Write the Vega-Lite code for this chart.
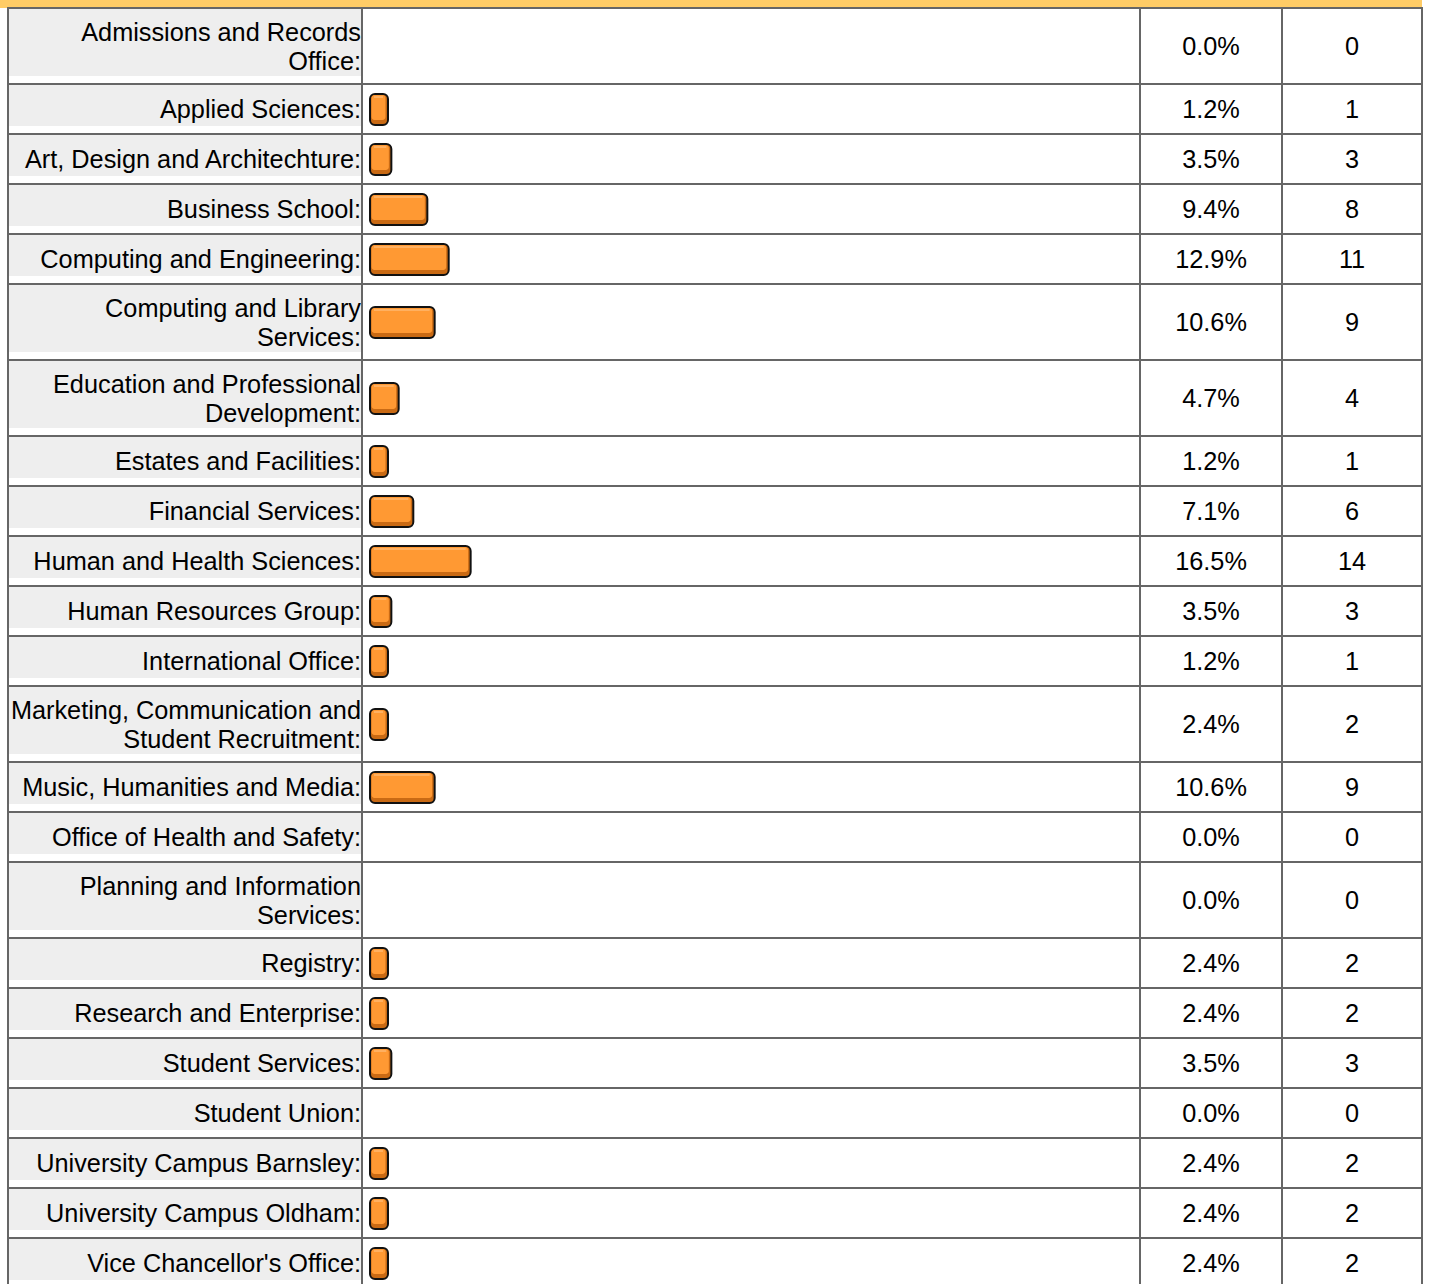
{
  "$schema": "https://vega.github.io/schema/vega-lite/v6.json",
  "background": "white",
  "padding": {"left": 0, "top": 0, "right": 0, "bottom": 0},
  "spacing": 0,
  "bounds": "flush",
  "config": {"view": {"stroke": null}},
  "data": {"values": [
    {"i": 1, "dept": "Admissions and Records\nOffice:", "pct": 0.0, "count": 0, "lines": 2},
    {"i": 2, "dept": "Applied Sciences:", "pct": 0.012, "count": 1, "lines": 1},
    {"i": 3, "dept": "Art, Design and Architechture:", "pct": 0.035, "count": 3, "lines": 1},
    {"i": 4, "dept": "Business School:", "pct": 0.094, "count": 8, "lines": 1},
    {"i": 5, "dept": "Computing and Engineering:", "pct": 0.129, "count": 11, "lines": 1},
    {"i": 6, "dept": "Computing and Library\nServices:", "pct": 0.106, "count": 9, "lines": 2},
    {"i": 7, "dept": "Education and Professional\nDevelopment:", "pct": 0.047, "count": 4, "lines": 2},
    {"i": 8, "dept": "Estates and Facilities:", "pct": 0.012, "count": 1, "lines": 1},
    {"i": 9, "dept": "Financial Services:", "pct": 0.071, "count": 6, "lines": 1},
    {"i": 10, "dept": "Human and Health Sciences:", "pct": 0.165, "count": 14, "lines": 1},
    {"i": 11, "dept": "Human Resources Group:", "pct": 0.035, "count": 3, "lines": 1},
    {"i": 12, "dept": "International Office:", "pct": 0.012, "count": 1, "lines": 1},
    {"i": 13, "dept": "Marketing, Communication and\nStudent Recruitment:", "pct": 0.024, "count": 2, "lines": 2},
    {"i": 14, "dept": "Music, Humanities and Media:", "pct": 0.106, "count": 9, "lines": 1},
    {"i": 15, "dept": "Office of Health and Safety:", "pct": 0.0, "count": 0, "lines": 1},
    {"i": 16, "dept": "Planning and Information\nServices:", "pct": 0.0, "count": 0, "lines": 2},
    {"i": 17, "dept": "Registry:", "pct": 0.024, "count": 2, "lines": 1},
    {"i": 18, "dept": "Research and Enterprise:", "pct": 0.024, "count": 2, "lines": 1},
    {"i": 19, "dept": "Student Services:", "pct": 0.035, "count": 3, "lines": 1},
    {"i": 20, "dept": "Student Union:", "pct": 0.0, "count": 0, "lines": 1},
    {"i": 21, "dept": "University Campus Barnsley:", "pct": 0.024, "count": 2, "lines": 1},
    {"i": 22, "dept": "University Campus Oldham:", "pct": 0.024, "count": 2, "lines": 1},
    {"i": 23, "dept": "Vice Chancellor's Office:", "pct": 0.024, "count": 2, "lines": 1}
  ]},
  "transform": [
    {"calculate": "datum.lines == 2 ? 1.52 : 1", "as": "h"},
    {"window": [{"op": "sum", "field": "h", "as": "bottom"}], "sort": [{"field": "i"}], "frame": [null, 0]},
    {"calculate": "datum.bottom - datum.h", "as": "top"},
    {"calculate": "datum.bottom - datum.h / 2", "as": "mid"},
    {"calculate": "-0.16", "as": "bandTop"},
    {"calculate": "0", "as": "bandBot"},
    {"calculate": "0", "as": "c0"},
    {"calculate": "1", "as": "c1"},
    {"calculate": "0.5", "as": "chalf"},
    {"calculate": "-0.01311", "as": "barL"},
    {"calculate": "1.2623", "as": "barR"},
    {"calculate": "max(datum.pct, 0.0295)", "as": "barEnd"}
  ],
  "hconcat": [
    {
      "width": 354,
      "height": 1284,
      "encoding": {
        "y": {"field": "top", "type": "quantitative", "scale": {"domain": [-0.16, 25.52], "reverse": true, "nice": false, "zero": false}, "axis": null}
      },
      "layer": [
        {
          "transform": [{"filter": "datum.i == 1"}],
          "mark": {"type": "rect", "fill": "#FFCC66", "xOffset": -8},
          "encoding": {
            "x": {"field": "c0", "type": "quantitative", "scale": {"domain": [0, 1], "nice": false, "zero": false}, "axis": null},
            "x2": {"field": "c1"},
            "y": {"field": "bandTop", "type": "quantitative"},
            "y2": {"field": "bandBot"}
          }
        },
        {
          "mark": {"type": "rect", "fill": "white", "stroke": "#666666", "strokeWidth": 2},
          "encoding": {
            "x": {"field": "c0", "type": "quantitative"},
            "x2": {"field": "c1"},
            "y2": {"field": "bottom"}
          }
        },
        {
          "mark": {"type": "rect", "fill": "#EEEEEE", "yOffset": 1, "y2Offset": -8, "xOffset": 1, "x2Offset": -1},
          "encoding": {
            "x": {"field": "c0", "type": "quantitative"},
            "x2": {"field": "c1"},
            "y2": {"field": "bottom"}
          }
        },
        {
          "transform": [{"filter": "datum.lines == 1"}],
          "mark": {"type": "text", "align": "right", "baseline": "middle", "font": "Liberation Sans", "fontSize": 25.3, "fill": "black", "dx": -1, "dy": 1},
          "encoding": {
            "x": {"field": "c1", "type": "quantitative"},
            "y": {"field": "mid", "type": "quantitative"},
            "text": {"field": "dept", "type": "nominal"}
          }
        },
        {
          "transform": [{"filter": "datum.lines == 2"}],
          "mark": {"type": "text", "align": "right", "baseline": "middle", "font": "Liberation Sans", "fontSize": 25.3, "lineHeight": 29, "lineBreak": "\n", "fill": "black", "dx": -1, "dy": -13},
          "encoding": {
            "x": {"field": "c1", "type": "quantitative"},
            "y": {"field": "mid", "type": "quantitative"},
            "text": {"field": "dept", "type": "nominal"}
          }
        }
      ]
    },
    {
      "width": 778,
      "height": 1284,
      "encoding": {
        "y": {"field": "top", "type": "quantitative", "scale": {"domain": [-0.16, 25.52], "reverse": true, "nice": false, "zero": false}, "axis": null}
      },
      "layer": [
        {
          "transform": [{"filter": "datum.i == 1"}],
          "mark": {"type": "rect", "fill": "#FFCC66"},
          "encoding": {
            "x": {"field": "barL", "type": "quantitative", "scale": {"domain": [-0.01311, 1.2623], "nice": false, "zero": false}, "axis": null},
            "x2": {"field": "barR"},
            "y": {"field": "bandTop", "type": "quantitative"},
            "y2": {"field": "bandBot"}
          }
        },
        {
          "mark": {"type": "rect", "fill": "white", "stroke": "#666666", "strokeWidth": 2},
          "encoding": {
            "x": {"field": "barL", "type": "quantitative"},
            "x2": {"field": "barR"},
            "y2": {"field": "bottom"}
          }
        },
        {
          "transform": [{"filter": "datum.pct > 0"}],
          "mark": {"type": "rect", "fill": "#C96A14", "stroke": "#111111", "strokeWidth": 2, "cornerRadius": 5, "yOffset": -15, "y2Offset": 16},
          "encoding": {
            "x": {"field": "c0", "type": "quantitative"},
            "x2": {"field": "barEnd"},
            "y": {"field": "mid", "type": "quantitative"},
            "y2": {"field": "mid"}
          }
        },
        {
          "transform": [{"filter": "datum.pct > 0"}],
          "mark": {"type": "rect", "fill": "#FF9933", "cornerRadius": 3, "yOffset": -14, "y2Offset": 11, "xOffset": 1.5, "x2Offset": -2.5},
          "encoding": {
            "x": {"field": "c0", "type": "quantitative"},
            "x2": {"field": "barEnd"},
            "y": {"field": "mid", "type": "quantitative"},
            "y2": {"field": "mid"}
          }
        },
        {
          "transform": [{"filter": "datum.pct > 0"}],
          "mark": {"type": "rect", "fill": "#FFB060", "yOffset": -13, "y2Offset": -11, "xOffset": 4, "x2Offset": -5},
          "encoding": {
            "x": {"field": "c0", "type": "quantitative"},
            "x2": {"field": "barEnd"},
            "y": {"field": "mid", "type": "quantitative"},
            "y2": {"field": "mid"}
          }
        }
      ]
    },
    {
      "width": 142,
      "height": 1284,
      "encoding": {
        "y": {"field": "top", "type": "quantitative", "scale": {"domain": [-0.16, 25.52], "reverse": true, "nice": false, "zero": false}, "axis": null}
      },
      "layer": [
        {
          "transform": [{"filter": "datum.i == 1"}],
          "mark": {"type": "rect", "fill": "#FFCC66"},
          "encoding": {
            "x": {"field": "c0", "type": "quantitative", "scale": {"domain": [0, 1], "nice": false, "zero": false}, "axis": null},
            "x2": {"field": "c1"},
            "y": {"field": "bandTop", "type": "quantitative"},
            "y2": {"field": "bandBot"}
          }
        },
        {
          "mark": {"type": "rect", "fill": "white", "stroke": "#666666", "strokeWidth": 2},
          "encoding": {
            "x": {"field": "c0", "type": "quantitative"},
            "x2": {"field": "c1"},
            "y2": {"field": "bottom"}
          }
        },
        {
          "mark": {"type": "text", "align": "center", "baseline": "middle", "font": "Liberation Sans", "fontSize": 25.3, "fill": "black", "dy": 1},
          "encoding": {
            "x": {"field": "chalf", "type": "quantitative"},
            "y": {"field": "mid", "type": "quantitative"},
            "text": {"field": "pct", "type": "quantitative", "format": ".1%"}
          }
        }
      ]
    },
    {
      "width": 140,
      "height": 1284,
      "encoding": {
        "y": {"field": "top", "type": "quantitative", "scale": {"domain": [-0.16, 25.52], "reverse": true, "nice": false, "zero": false}, "axis": null}
      },
      "layer": [
        {
          "transform": [{"filter": "datum.i == 1"}],
          "mark": {"type": "rect", "fill": "#FFCC66"},
          "encoding": {
            "x": {"field": "c0", "type": "quantitative", "scale": {"domain": [0, 1], "nice": false, "zero": false}, "axis": null},
            "x2": {"field": "c1"},
            "y": {"field": "bandTop", "type": "quantitative"},
            "y2": {"field": "bandBot"}
          }
        },
        {
          "mark": {"type": "rect", "fill": "white", "stroke": "#666666", "strokeWidth": 2},
          "encoding": {
            "x": {"field": "c0", "type": "quantitative"},
            "x2": {"field": "c1"},
            "y2": {"field": "bottom"}
          }
        },
        {
          "mark": {"type": "text", "align": "center", "baseline": "middle", "font": "Liberation Sans", "fontSize": 25.3, "fill": "black", "dy": 1},
          "encoding": {
            "x": {"field": "chalf", "type": "quantitative"},
            "y": {"field": "mid", "type": "quantitative"},
            "text": {"field": "count", "type": "quantitative"}
          }
        }
      ]
    }
  ]
}
